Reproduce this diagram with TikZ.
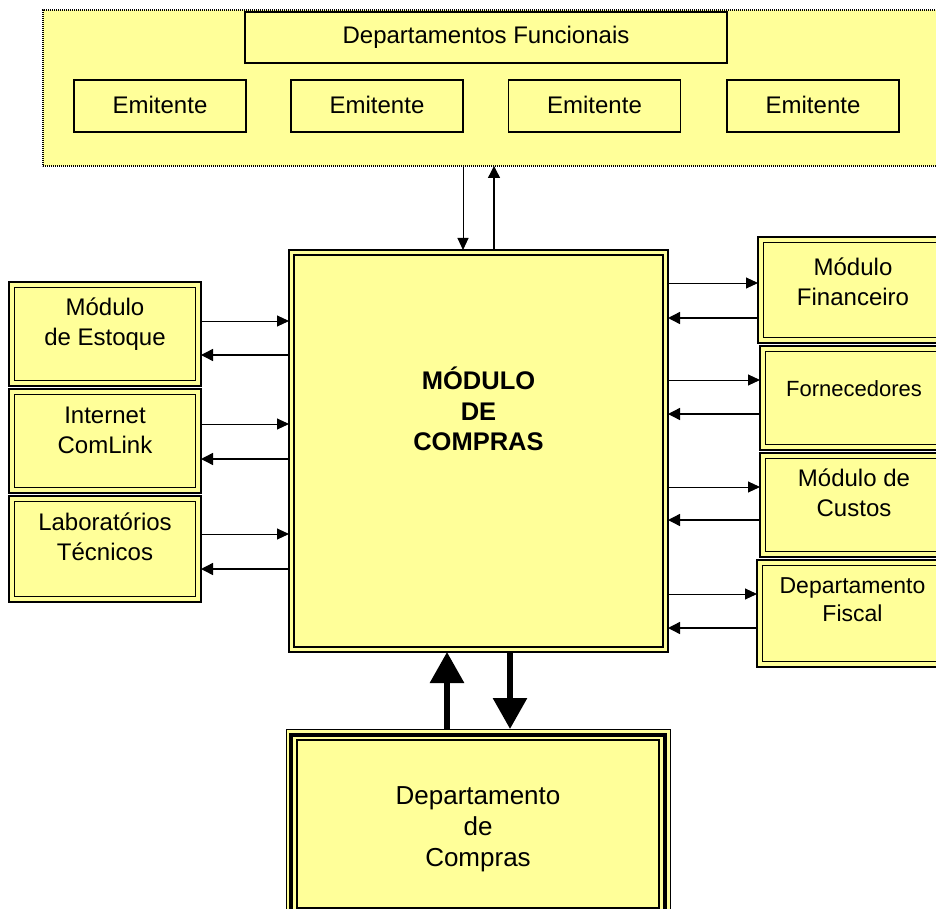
\documentclass[tikz,border=0pt]{standalone}
\usepackage{fontspec}
\setmainfont{Liberation Sans}
\usetikzlibrary{arrows.meta}
\definecolor{paleyellow}{RGB}{255,255,153}

\begin{document}
\begin{tikzpicture}[x=1pt,y=-1pt,
  box/.style={fill=paleyellow, inner sep=0pt, outer sep=0pt, anchor=north west},
  framebox/.style={box, draw, line width=2.5pt},
  plainbox/.style={box, draw, line width=1.6pt, anchor=center,
                   minimum width=172pt, minimum height=52pt,
                   font=\fontsize{24}{30}\selectfont},
  innerline/.style={line width=1.4pt},
  lbl/.style={align=center, inner sep=0pt, font=\fontsize{24}{30}\selectfont},
  fwd/.style={line width=1pt, -{Triangle[length=12pt,width=11pt]}},
  back/.style={line width=1.4pt, -{Triangle[length=12pt,width=12pt]}},
  big/.style={line width=6pt, -{Triangle[length=31pt,width=33pt]}}]

\useasboundingbox (0,0) rectangle (936,909);

% functional departments panel
\node[box, draw, line width=1.3pt, dash pattern=on 1.2pt off 0.8pt,
      minimum width=900pt, minimum height=156pt] (func) at (43,10) {};
\node[plainbox, minimum width=482pt, minimum height=51pt] (deps) at (486,37.5) {Departamentos Funcionais};
\node[plainbox] (em1) at (160,106) {\raisebox{1.5pt}{Emitente}};
\node[plainbox] (em2) at (377,106) {\raisebox{1.5pt}{Emitente}};
\node[plainbox] (em3) at (594.5,106) {\raisebox{1.5pt}{Emitente}};
\node[plainbox] (em4) at (813,106) {\raisebox{1.5pt}{Emitente}};

% central purchasing module
\node[box, draw, line width=1.2pt, minimum width=379pt, minimum height=402pt] (main) at (289,250) {};
\draw[line width=2.6pt] ([shift={(5,5)}]main.north west) rectangle ([shift={(-5,-5)}]main.south east);
\node[lbl, font=\fontsize{25.5}{30.5}\selectfont\bfseries] (mainT) at (main.north |- 0,409) {MÓDULO\\DE\\COMPRAS};

% left side modules
\node[framebox, minimum width=192pt, minimum height=104pt] (estoque) at (9,282) {};
\node[framebox, minimum width=192pt, minimum height=104pt] (internet) at (9,389) {};
\node[framebox, minimum width=192pt, minimum height=106pt] (lab) at (9,496) {};

% right side modules
\node[framebox, minimum width=190pt, minimum height=106pt] (fin) at (758,237) {};
\node[framebox, minimum width=188pt, minimum height=104pt] (forn) at (760,346) {};
\node[framebox, minimum width=188pt, minimum height=104pt] (custos) at (760,453) {};
\node[framebox, minimum width=191pt, minimum height=107pt] (fiscal) at (757,560) {};

\foreach \n in {estoque,internet,lab,fin,forn,custos,fiscal}
  \draw[innerline] ([shift={(5.5,5.5)}]\n.north west) rectangle ([shift={(-5.5,-5.5)}]\n.south east);

\node[lbl] (estoqueT) at (estoque.north |- 0,324) {Módulo\\de Estoque};
\node[lbl] (internetT) at (internet.north |- 0,430) {Internet\\ComLink};
\node[lbl] (labT) at (lab.north |- 0,537) {Laboratórios\\Técnicos};
\node[lbl] (finT) at (fin.north |- 0,282) {Módulo\\Financeiro};
\node[lbl, font=\fontsize{22}{28}\selectfont] (fornT) at (forn.north |- 0,389) {Fornecedores};
\node[lbl] (custosT) at (custos.north |- 0,493) {Módulo de\\Custos};
\node[lbl, font=\fontsize{23}{28}\selectfont] (fiscalT) at (fiscal.north |- 0,600) {Departamento\\Fiscal};

% purchasing department
\node[box, draw, line width=1pt, minimum width=384pt, minimum height=190pt] (dept) at (286,729) {};
\draw[line width=4pt] ([shift={(5,6)}]dept.north west) rectangle ([shift={(-5,-5)}]dept.south east);
\draw[line width=1.2pt] ([shift={(11,11)}]dept.north west) rectangle ([shift={(-11,-11)}]dept.south east);
\node[lbl, font=\fontsize{26}{31}\selectfont] (deptT) at (dept.north |- 0,829) {Departamento\\de\\Compras};

% flows with the functional departments
\draw[fwd] (func.south -| 463,0) -- (main.north -| 463,0);
\draw[back] (main.north -| 494,0) -- (func.south -| 494,0);

% flows with the left modules
\draw[fwd] (estoque.east |- 0,321) -- (main.west |- 0,321);
\draw[back] (main.west |- 0,355) -- (estoque.east |- 0,355);
\draw[fwd] (internet.east |- 0,424) -- (main.west |- 0,424);
\draw[back] (main.west |- 0,459) -- (internet.east |- 0,459);
\draw[fwd] (lab.east |- 0,534) -- (main.west |- 0,534);
\draw[back] (main.west |- 0,569) -- (lab.east |- 0,569);

% flows with the right modules
\draw[fwd] (main.east |- 0,283) -- (fin.west |- 0,283);
\draw[back] (fin.west |- 0,318) -- (main.east |- 0,318);
\draw[fwd] (main.east |- 0,380) -- (forn.west |- 0,380);
\draw[back] (forn.west |- 0,414) -- (main.east |- 0,414);
\draw[fwd] (main.east |- 0,487) -- (custos.west |- 0,487);
\draw[back] (custos.west |- 0,520) -- (main.east |- 0,520);
\draw[fwd] (main.east |- 0,594) -- (fiscal.west |- 0,594);
\draw[back] (fiscal.west |- 0,628) -- (main.east |- 0,628);

% flows with the purchasing department
\draw[big] (dept.north -| 447,0) -- (main.south -| 447,0);
\draw[big] (main.south -| 510,0) -- (dept.north -| 510,0);
\end{tikzpicture}
\end{document}
